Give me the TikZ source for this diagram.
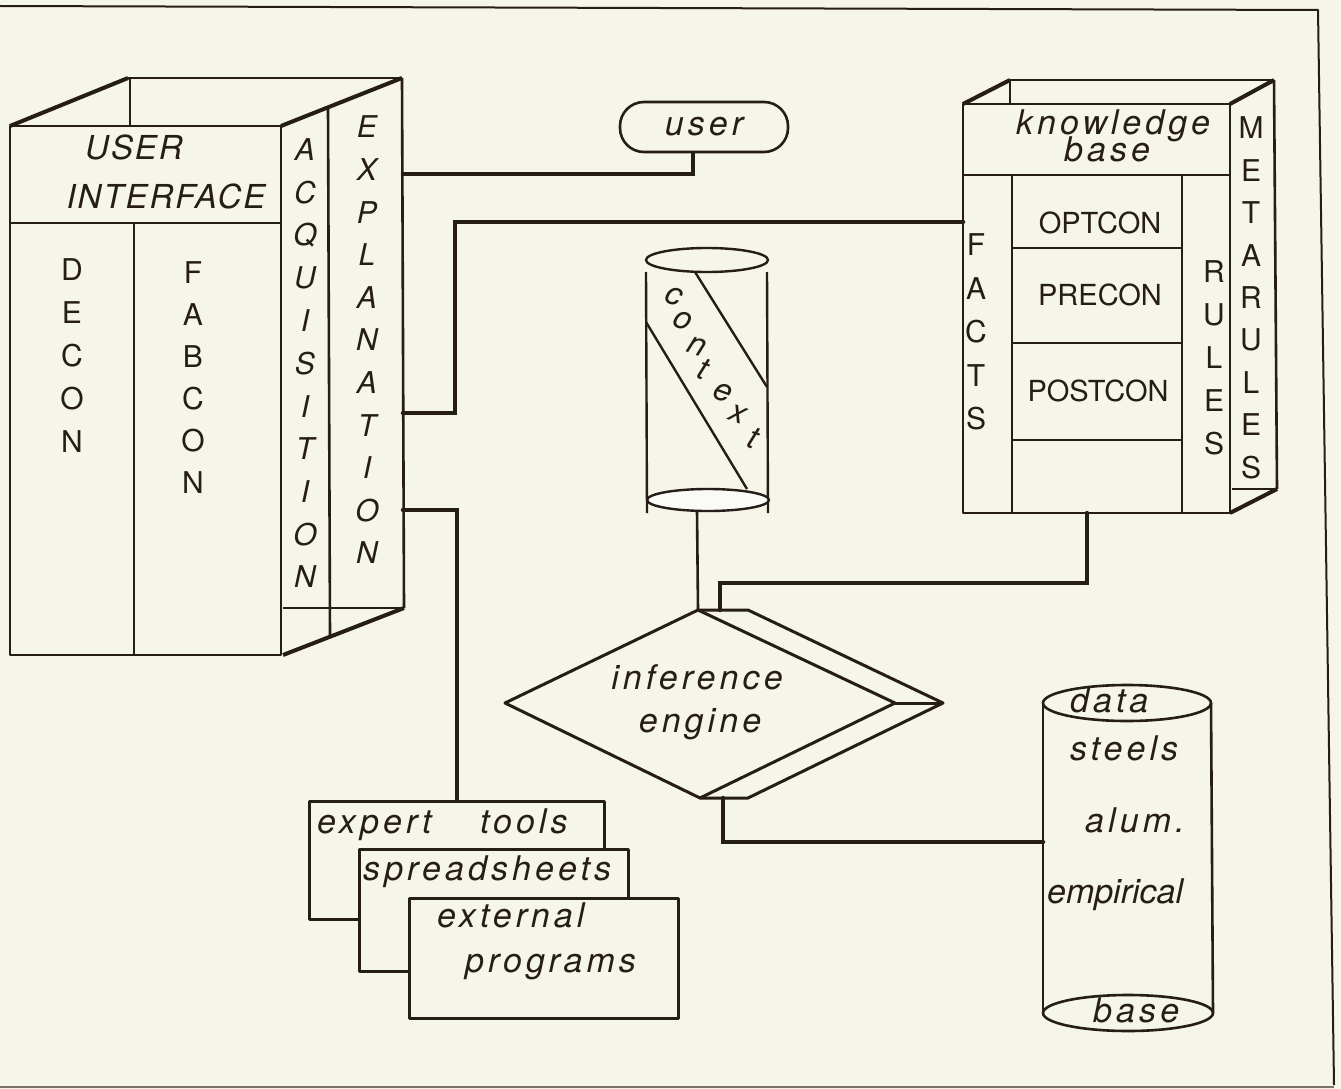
\documentclass[tikz,border=0pt]{standalone}
\usepackage{fontspec}
\setmainfont{TeX Gyre Heros}
\newfontfamily\labfont[LetterSpace=12]{TeX Gyre Heros}
\newfontfamily\capfont[LetterSpace=6]{TeX Gyre Heros}
\usetikzlibrary{calc}
\definecolor{paper}{RGB}{246,245,233}
\definecolor{ink}{RGB}{38,28,24}
\definecolor{lite}{RGB}{250,250,246}
\tikzset{
  ln/.style={draw=ink, line width=2.6pt},
  thk/.style={draw=ink, line width=4pt},
  frm/.style={draw=ink, line width=2pt},
  conn/.style={draw=ink, line width=4.5pt, line cap=round, line join=miter},
  itx/.style={font=\labfont\itshape\fontsize{34}{36}\selectfont, text=ink, inner sep=0pt},
  itcap/.style={font=\capfont\itshape\fontsize{33}{35}\selectfont, text=ink, inner sep=0pt},
  itplain/.style={font=\itshape\fontsize{34}{36}\selectfont, text=ink, inner sep=0pt},
  ctxl/.style={font=\itshape\fontsize{32}{34}\selectfont, text=ink, inner sep=0pt},
  upx/.style={font=\fontsize{30}{32}\selectfont, text=ink, inner sep=0pt},
  vit/.style={font=\itshape\fontsize{30}{32}\selectfont, text=ink, inner sep=0pt},
  cell/.style={font=\fontsize{29}{30}\selectfont, text=ink, inner sep=0pt, anchor=base},
  stackbox/.style={draw=ink, line width=2.6pt, fill=paper, anchor=north west, inner sep=0pt},
}
\begin{document}
\begin{tikzpicture}[x=1pt,y=-1pt, line join=round]
\fill[paper] (0,0) rectangle (1341,1089);
\useasboundingbox (0,0) rectangle (1341,1089);
% frame
\draw[frm] (0,6) -- (1318,10) -- (1334,1085);
\draw[draw=ink!60!paper, line width=1.2pt] (0,1087) -- (1334,1087);

% ---------------- USER INTERFACE block ----------------
\draw[ln] (10,126) rectangle (281,655);
\draw[ln] (10,223) -- (281,223);
\draw[ln] (134,223) -- (134,655);
\draw[thk] (10,126) -- (128,78);
\draw[ln] (128,78) -- (402,78);
\draw[thk] (281,126) -- (402,78);
\draw[ln] (130,78) -- (130,126);
\draw[ln] (402,78) -- (404,608);
\draw[ln] (283,608) -- (404,608);
\draw[thk] (283,655) -- (404,608);
\draw[ln] (328,107) -- (330,637);
\node[itcap, anchor=base] (uiuser) at (134,159) {USER};
\node[itcap, anchor=base] (uiint) at (166,208) {INTERFACE};
\foreach \c [count=\i from 0] in {D,E,C,O,N}
  \node[upx] (decon\i) at (72,270+43*\i) {\c};
\foreach \c [count=\i from 0] in {F,A,B,C,O,N}
  \node[upx] (fabcon\i) at (193,273+42*\i) {\c};
\foreach \c [count=\i from 0] in {A,C,Q,U,I,S,I,T,I,O,N}
  \node[vit] (acq\i) at (305,150+42.7*\i) {\c};
\foreach \c [count=\i from 0] in {E,X,P,L,A,N,A,T,I,O,N}
  \node[vit] (expl\i) at (367,127+42.6*\i) {\c};

% ---------------- user ----------------
\node[draw=ink, line width=2.6pt, rounded corners=24pt, minimum width=168pt,
      minimum height=50pt, itx] (user) at (704,127) {user};

% ---------------- knowledge base ----------------
\draw[ln] (963,104) rectangle (1230,513);
\draw[ln] (963,175) -- (1230,175);
\draw[ln] (1012,175) -- (1012,513);
\draw[ln] (1182,175) -- (1182,513);
\draw[ln] (1012,248) -- (1182,248);
\draw[ln] (1012,343) -- (1182,343);
\draw[ln] (1012,440) -- (1182,440);
\draw[thk] (963,104) -- (1010,80);
\draw[ln] (1010,80) -- (1274,80);
\draw[thk] (1230,104) -- (1274,80);
\draw[ln] (1010,80) -- (1010,104);
\draw[ln] (1274,80) -- (1277,489);
\draw[ln] (1232,489) -- (1277,489);
\draw[thk] (1230,513) -- (1277,489);
\node[itx, anchor=base] (kbt1) at (1113,135) {knowledge};
\node[itx, anchor=base] (kbt2) at (1107,161) {base};
\node[cell] (optcon) at (1100,233) {OPTCON};
\node[cell] (precon) at (1100,305) {PRECON};
\node[cell] (postcon) at (1098,401) {POSTCON};
\foreach \c [count=\i from 0] in {F,A,C,T,S}
  \node[upx] (facts\i) at (976,245+43.5*\i) {\c};
\foreach \c [count=\i from 0] in {R,U,L,E,S}
  \node[upx] (rules\i) at (1214,272+43*\i) {\c};
\foreach \c [count=\i from 0] in {M,E,T,A,R,U,L,E,S}
  \node[upx] (meta\i) at (1251,128+42.4*\i) {\c};

% ---------------- context cylinder ----------------
\draw[ln, line width=2.4pt] (707,260) ellipse [x radius=61pt, y radius=12pt];
\draw[ln, line width=2.4pt] (646,272) -- (647,513);
\draw[ln, line width=2.4pt] (767,272) -- (768,513);
\filldraw[ln, line width=2.4pt, fill=lite] (708,500) ellipse [x radius=61pt, y radius=11pt];
\draw[ln, line width=2.4pt] (695,272) -- (767,387);
\draw[ln, line width=2.4pt] (646,322) -- (747,489);
\foreach \c/\px/\py [count=\i] in {c/674/296, o/683/321, n/697/346, t/703/369, e/723/393, x/738/414, t/753/438}
  \node[ctxl, rotate=-20] (ctx\i) at (\px,\py) {\c};

% ---------------- inference engine ----------------
\draw[ln, line width=3pt] (698,610) -- (505,703) -- (700,798) -- (895,703) -- cycle;
\draw[ln, line width=3pt] (698,610) -- (748,610) -- (943,703) -- (748,798) -- (700,798);
\draw[ln, line width=3pt] (895,703) -- (943,703);
\node[itx, anchor=base] (ie1) at (697,689) {inference};
\node[itx, anchor=base] (ie2) at (700,732) {engine};

% ---------------- data base cylinder ----------------
\draw[ln] (1127,703) ellipse [x radius=84pt, y radius=18pt];
\draw[ln] (1043,703) -- (1043,1013);
\draw[ln] (1211,703) -- (1213,1013);
\draw[ln] (1128,1013) ellipse [x radius=85pt, y radius=18pt];
\node[itx, anchor=base west] (db1) at (1070,712) {data};
\node[itx, anchor=base west] (db2) at (1070,760) {steels};
\node[itx, anchor=base west] (db3) at (1085,832) {alum.};
\node[itplain, anchor=base west] (db4) at (1047,903) {empirical};
\node[itx, anchor=base west] (db5) at (1093,1022) {base};

% ---------------- tool stack ----------------
\node[stackbox, minimum width=295pt, minimum height=118pt] (tools) at (308,800) {};
\node[stackbox, minimum width=269pt, minimum height=122pt] (sheets) at (358,848) {};
\node[stackbox, minimum width=269pt, minimum height=120pt] (progs) at (408,897) {};
\node[itx, anchor=base west] (t1) at (317,833) {expert};
\node[itx, anchor=base west] (t2) at (480,833) {tools};
\node[itx, anchor=base west] (t3) at (363,880) {spreadsheets};
\node[itx, anchor=base west] (t4) at (437,927) {external};
\node[itx, anchor=base west] (t5) at (465,972) {programs};

% ---------------- connectors ----------------
\coordinate (exp1) at (403,174);
\coordinate (exp2) at (403,413);
\coordinate (exp3) at (403,510);
\coordinate (kbin) at (963,222);
\coordinate (kbout) at (1087,513);
\coordinate (ctxout) at (697,511);
\coordinate (ietop) at (698,610);
\coordinate (ietopr) at (720,610);
\coordinate (iebot) at (723,798);
\coordinate (dbin) at (1043,842);
\draw[conn] (exp1) -| ([xshift=-11pt]user.south);
\draw[conn] (exp2) -- ++(52,0) |- (kbin);
\draw[conn] (exp3) -| (tools.north);
\draw[conn, line width=2.6pt] (ctxout) -- (ietop);
\draw[conn] (kbout) -- ++(0,70) -| (ietopr);
\draw[conn] (iebot) |- (dbin);
\end{tikzpicture}
\end{document}
